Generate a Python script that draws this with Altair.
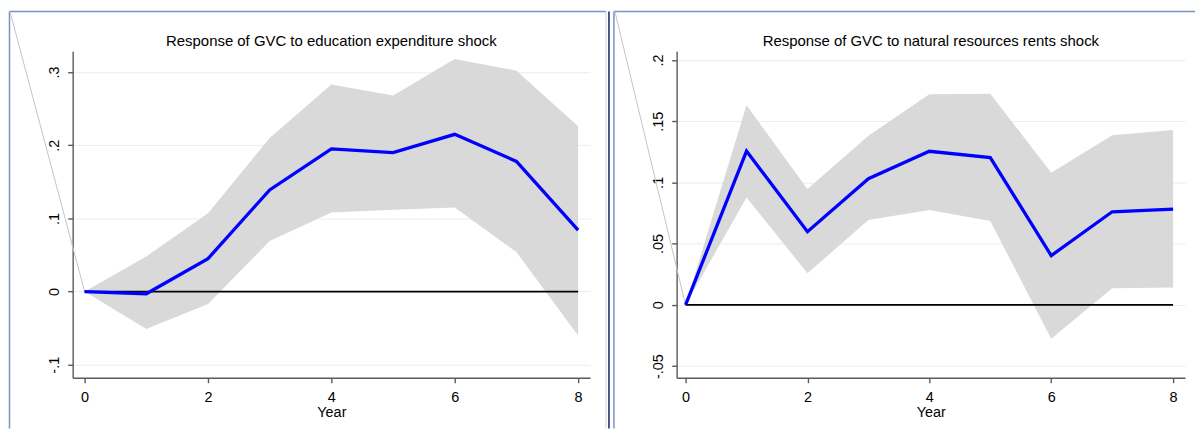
import altair as alt
import pandas as pd

# ---- data ----
years = [0, 1, 2, 3, 4, 5, 6, 7, 8]

edu_title = "Response of GVC to education expenditure shock"
edu_irf = [0.0, -0.003, 0.045, 0.139, 0.195, 0.190, 0.215, 0.178, 0.084]
edu_upper = [0.0, 0.048, 0.107, 0.210, 0.283, 0.268, 0.318, 0.302, 0.226]
edu_lower = [0.0, -0.051, -0.017, 0.069, 0.108, 0.112, 0.115, 0.054, -0.060]
edu_yticks = [-0.1, 0, 0.1, 0.2, 0.3]

nat_title = "Response of GVC to natural resources rents shock"
nat_irf = [0.0, 0.1256, 0.0597, 0.1030, 0.1254, 0.1203, 0.0402, 0.0760, 0.0782]
nat_upper = [0.0, 0.163, 0.0945, 0.138, 0.172, 0.1724, 0.1078, 0.1385, 0.1428]
nat_lower = [0.0, 0.0877, 0.0258, 0.0692, 0.0774, 0.0684, -0.0277, 0.0136, 0.0141]
nat_yticks = [-0.05, 0, 0.05, 0.1, 0.15, 0.2]

x_ticks = [0, 2, 4, 6, 8]
x_title = "Year"

FONT = "Liberation Sans"
FS = 14.5
TFS = 15
LABEL_EXPR = ("datum.value == 0 ? '0' : "
              "replace(replace(format(datum.value, '~g'), '0.', '.'), '\u2212', '-')")


def panel(title, irf, lower, upper, yticks, W, H, xdom, ydom, deco):
    df = pd.DataFrame({"year": years, "irf": irf, "lo": lower, "hi": upper})
    zero_df = pd.DataFrame({"x0": [years[0]], "x1": [years[-1]], "y0": [0.0]})

    xscale = alt.Scale(domain=xdom, nice=False, zero=False)
    yscale = alt.Scale(domain=ydom, nice=False, zero=False)
    xaxis = alt.Axis(values=x_ticks, title=x_title, grid=False, format="d",
                     labelPadding=8, titlePadding=1, tickSize=5)
    yaxis = alt.Axis(values=yticks, title=None, grid=True, labelAngle=270,
                     labelAlign="center", labelBaseline="bottom",
                     labelPadding=6, tickSize=5, labelExpr=LABEL_EXPR)

    def X(f):
        return alt.X(f, type="quantitative", scale=xscale, axis=xaxis)

    def Y(f):
        return alt.Y(f, type="quantitative", scale=yscale, axis=yaxis)

    band = alt.Chart(df).mark_area(color="#d9d9d9", opacity=1).encode(
        x=X("year"), y=Y("hi"), y2="lo")
    zero = alt.Chart(zero_df).mark_rule(color="black", strokeWidth=1.6).encode(
        x=X("x0"), x2="x1", y=Y("y0"))
    line = alt.Chart(df).mark_line(color="#0000ff", strokeWidth=3.3).encode(
        x=X("year"), y=Y("irf"))
    ttl = alt.Chart(pd.DataFrame({"t": [title]})).mark_text(
        font=FONT, fontSize=TFS, color="black", baseline="middle").encode(
        text="t:N", x=alt.value(W / 2), y=alt.value(-10.5))

    one = pd.DataFrame({"k": [0]})
    decos = []
    for (x1, y1, x2, y2, col, sw) in deco:
        decos.append(alt.Chart(one).mark_rule(color=col, strokeWidth=sw).encode(
            x=alt.value(x1), y=alt.value(y1), x2=alt.value(x2), y2=alt.value(y2)))

    return alt.layer(*decos, band, zero, line, ttl).properties(width=W, height=H)


FRAME = "#7d92c2"
NAVY = "#1d2f72"
DIAG = "#c4c4c4"
BOT = 379

left_deco = [
    (-63.5, -40, -63.5, BOT, FRAME, 1.5),
    (-63.5, -40, 536, -40, FRAME, 1.5),
    (536, -40, 536, BOT, "#c9d3ea", 1),
    (539, -40, 539, BOT, NAVY, 1.6),
    (-63, -40, 12, 241.3, DIAG, 1),
]
right_deco = [
    (-63, -40, -63, BOT, FRAME, 1.5),
    (-63, -40, 521, -40, FRAME, 1.5),
    (-62, -40, 9, 254.8, DIAG, 1),
]

left = panel(edu_title, edu_irf, edu_lower, edu_upper, edu_yticks,
             520, 328, [-0.1935, 8.1935], [-0.1177, 0.3284], left_deco)
right = panel(nat_title, nat_irf, nat_lower, nat_upper, nat_yticks,
              511, 328, [-0.147, 8.196], [-0.0595, 0.2070], right_deco)

chart = alt.hconcat(left, right, spacing=87, bounds="flush").properties(
    padding={"top": 1.5, "left": 0, "right": 0, "bottom": 0},
    background="white",
).configure_view(strokeWidth=0).configure_axis(
    domainColor="#5a5a5a", domainWidth=1.4, tickColor="#5a5a5a", tickWidth=1.4,
    labelFont=FONT, labelFontSize=FS, labelColor="black",
    titleFont=FONT, titleFontSize=FS, titleFontWeight="normal", titleColor="black",
    gridColor="#e6eff1", gridWidth=1,
)

chart.save("out.html", embed_options={"renderer": "svg", "actions": False})
